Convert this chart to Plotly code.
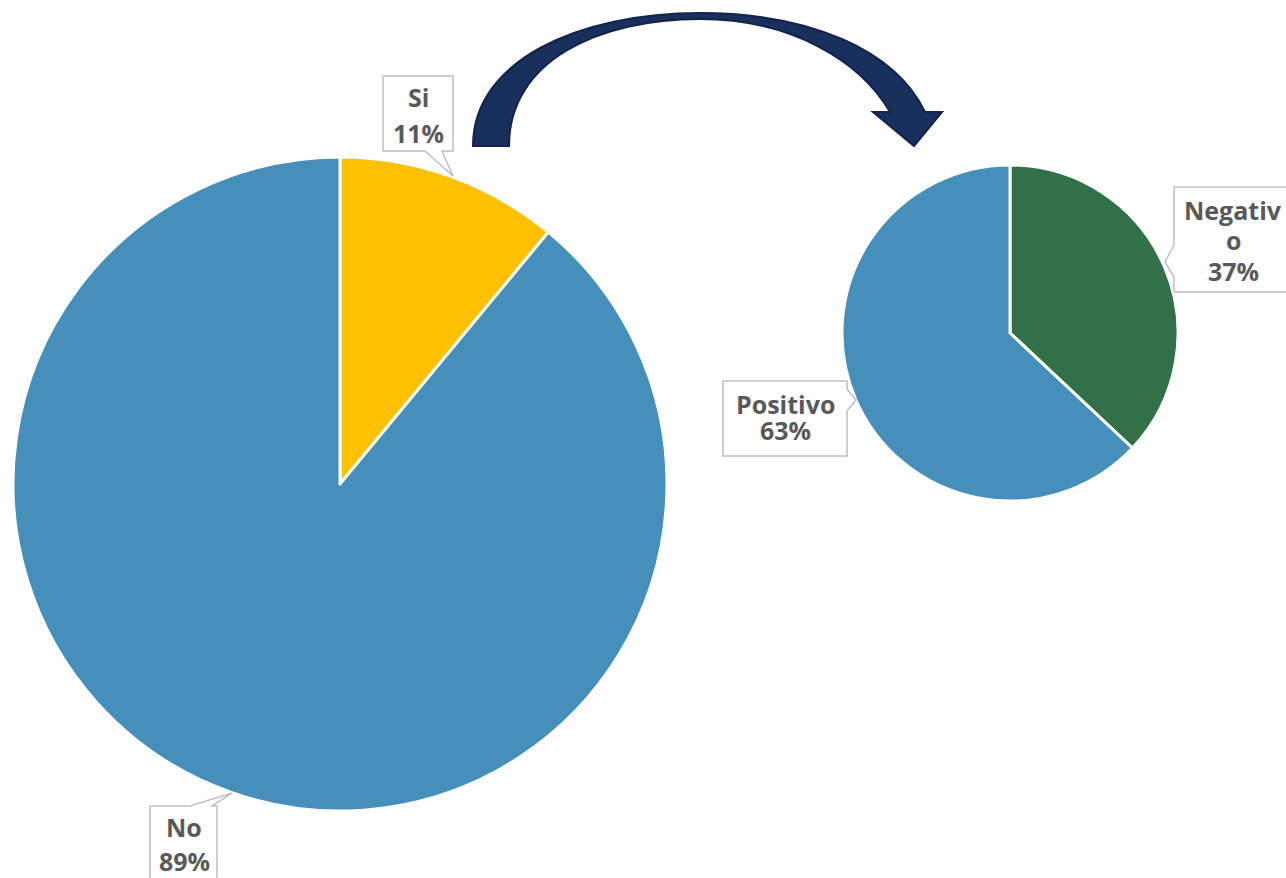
import plotly.graph_objects as go

W, H = 1286, 878

# ---- data ----
main_labels = ["Si", "No"]
main_values = [11, 89]
main_colors = ["#FFC000", "#468FBA"]

sub_labels = ["Negativo", "Positivo"]
sub_values = [37, 63]
sub_colors = ["#317048", "#468FBA"]

FONT = "Open Sans"
TXT = "#595959"


def px(x):
    return x / W


def py(y):
    return 1 - y / H


def path(cmds):
    out = []
    for c in cmds:
        if isinstance(c, str):
            out.append(c)
        else:
            out.append(f"{px(c[0]):.5f},{py(c[1]):.5f}")
    return " ".join(out)


def pie_domain(cx, cy, r):
    return dict(x=[px(cx - r), px(cx + r)], y=[py(cy + r), py(cy - r)])


fig = go.Figure()
fig.add_trace(go.Pie(
    labels=main_labels, values=main_values, sort=False, direction="clockwise",
    rotation=0, marker=dict(colors=main_colors, line=dict(color="white", width=3)),
    textinfo="none", hoverinfo="label+percent", domain=pie_domain(340, 484, 327),
    showlegend=False,
))
fig.add_trace(go.Pie(
    labels=sub_labels, values=sub_values, sort=False, direction="clockwise",
    rotation=0, marker=dict(colors=sub_colors, line=dict(color="white", width=3)),
    textinfo="none", hoverinfo="label+percent", domain=pie_domain(1010, 333, 168),
    showlegend=False,
))

shapes = []
# curved arrow
arrow = path([
    "M", (473, 146), "C", (473, 60), (580, 13), (700, 13),
    "C", (810, 13), (895, 50), (925, 112),
    "L", (942, 112), "L", (914, 146), "L", (873, 112), "L", (890, 112),
    "C", (860, 60), (790, 19), (700, 19),
    "C", (600, 19), (509, 60), (509, 146), "Z",
])
shapes.append(dict(type="path", xref="paper", yref="paper", path=arrow,
                   fillcolor="#19305C", line=dict(color="#12244A", width=2), layer="above"))

callouts = [
    ["M", (383, 76), "L", (453, 76), "L", (453, 151), "L", (442, 151), "L", (453, 176),
     "L", (425, 151), "L", (383, 151), "Z"],
    ["M", (150, 806), "L", (190, 806), "L", (232, 793), "L", (212, 806), "L", (217, 806),
     "L", (217, 895), "L", (150, 895), "Z"],
    ["M", (1174, 187), "L", (1300, 187), "L", (1300, 292), "L", (1174, 292), "L", (1174, 277),
     "L", (1165, 262), "L", (1174, 245), "Z"],
    ["M", (723, 381), "L", (847, 381), "L", (847, 389), "L", (856, 400), "L", (847, 411),
     "L", (847, 456), "L", (723, 456), "Z"],
]
for c in callouts:
    shapes.append(dict(type="path", xref="paper", yref="paper", path=path(c),
                       fillcolor="white", line=dict(color="#BFBFBF", width=1.5), layer="above"))


def pct(vals, i):
    return f"{round(100 * vals[i] / sum(vals))}%"


texts = [
    (main_labels[0], 418, 97), (pct(main_values, 0), 418, 133),
    (main_labels[1], 184, 827), (pct(main_values, 1), 184, 861),
    (sub_labels[0][:-1], 1233, 210), (sub_labels[0][-1], 1233, 240), (pct(sub_values, 0), 1233, 271),
    (sub_labels[1], 785, 404), (pct(sub_values, 1), 785, 430),
]
annotations = [
    dict(text=f"<b>{t}</b>", x=px(x), y=py(y), xref="paper", yref="paper",
         xanchor="center", yanchor="middle", showarrow=False,
         font=dict(family=FONT, size=25, color=TXT))
    for t, x, y in texts
]

fig.update_layout(
    width=W, height=H, margin=dict(l=0, r=0, t=0, b=0),
    paper_bgcolor="white", plot_bgcolor="white",
    shapes=shapes, annotations=annotations,
)
fig.write_html("out.html", config={"displayModeBar": False},
               post_script="document.body.style.margin='0px';")
